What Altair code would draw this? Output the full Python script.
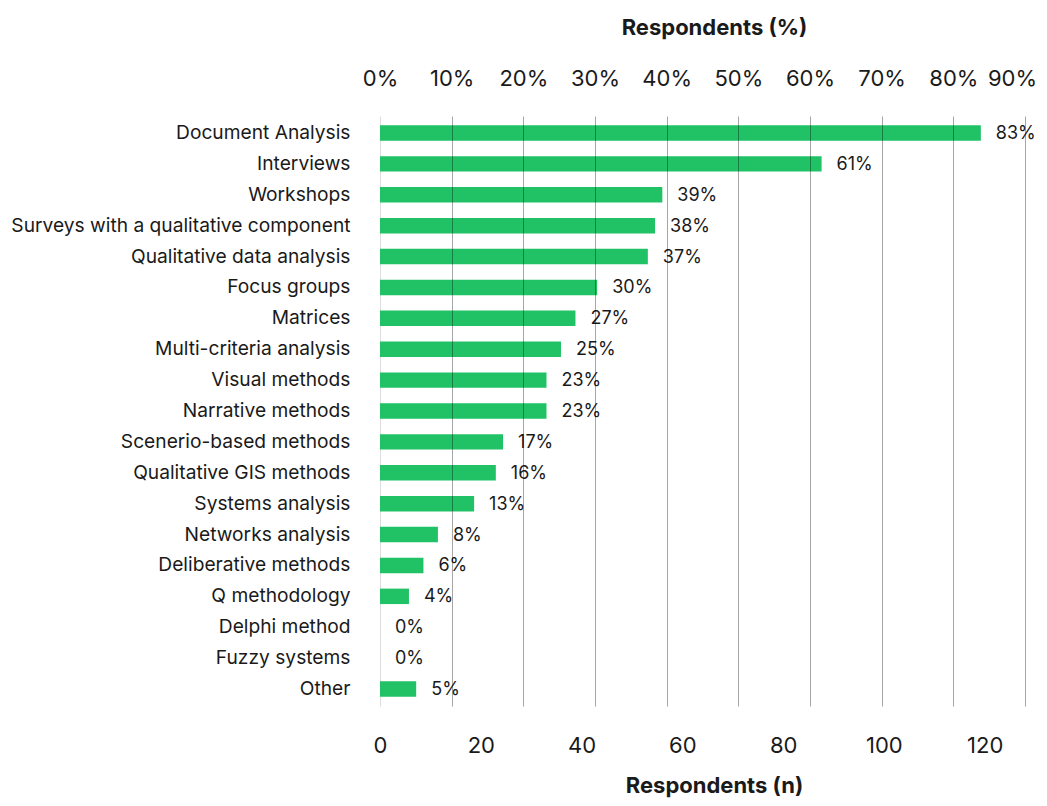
import altair as alt
import pandas as pd

methods = [
    "Document Analysis", "Interviews", "Workshops",
    "Surveys with a qualitative component", "Qualitative data analysis",
    "Focus groups", "Matrices", "Multi-criteria analysis", "Visual methods",
    "Narrative methods", "Scenerio-based methods", "Qualitative GIS methods",
    "Systems analysis", "Networks analysis", "Deliberative methods",
    "Q methodology", "Delphi method", "Fuzzy systems", "Other",
]
counts = [83, 61, 39, 38, 37, 30, 27, 25, 23, 23, 17, 16, 13, 8, 6, 4, 0, 0, 5]
labels = ["83%", "61%", "39%", "38%", "37%", "30%", "27%", "25%", "23%", "23%",
          "17%", "16%", "13%", "8%", "6%", "4%", "0%", "0%", "5%"]
total = 99
pct_ticks = [0, 0.1, 0.2, 0.3, 0.4, 0.5, 0.6, 0.7, 0.8, 0.9]
n_ticks = [0, 20, 40, 60, 80, 100, 120]

df = pd.DataFrame({"method": methods, "n": counts, "label": labels})
df["pct"] = df["n"] / total

FONT = "Inter"
GREEN = "#21c266"
TEXT = "#1a1a1a"

y_enc = alt.Y(
    "method:N", sort=methods, title=None,
    scale=alt.Scale(paddingInner=0.5, paddingOuter=0.3),
    axis=alt.Axis(labelFont=FONT, labelFontSize=19.2, labelColor=TEXT,
                  labelPadding=30, ticks=False, domain=True,
                  domainColor="#dddddd", labelLimit=500),
)

pct_scale = alt.Scale(domain=[0, 0.9], nice=False, zero=True)

bars = alt.Chart(df).mark_bar(color=GREEN).encode(
    y=y_enc,
    x=alt.X(
        "pct:Q", scale=pct_scale, title="Respondents (%)",
        axis=alt.Axis(
            orient="top", format=".0%", values=pct_ticks, labelOverlap=False,
            labelFlush=False,
            labelOffset={"condition": {"test": "datum.value >= 0.85", "value": -13}, "value": 0},
            labelFont=FONT, labelFontSize=22, labelColor=TEXT,
            labelPadding=26, ticks=False, tickSize=0, domain=False,
            grid=True, gridColor="#000000",
            gridOpacity={"condition": {"test": "datum.value === 0", "value": 0}, "value": 0.35},
            zindex=1,
            titleFont=FONT, titleFontSize=22, titleFontWeight="bold",
            titleColor=TEXT, titlePadding=28, titleX=334, titleAlign="center",
        ),
    ),
)

text = alt.Chart(df).mark_text(
    align="left", baseline="middle", dx=15, dy=1, font=FONT, fontSize=18, color=TEXT
).encode(
    y=alt.Y("method:N", sort=methods),
    x=alt.X("pct:Q", scale=pct_scale, axis=None),
    text="label:N",
)

bottom = alt.Chart(df).mark_point(opacity=0).encode(
    y=alt.Y("method:N", sort=methods),
    x=alt.X(
        "n:Q", title="Respondents (n)",
        scale=alt.Scale(domain=[0, 128], nice=False),
        axis=alt.Axis(
            orient="bottom", values=n_ticks, labelOverlap=False,
            labelFlush=False,
            labelFont=FONT, labelFontSize=22,
            labelColor=TEXT, labelPadding=29, ticks=False, tickSize=0,
            domain=False, grid=False,
            titleFont=FONT, titleFontSize=22, titleFontWeight="bold",
            titleColor=TEXT, titlePadding=19, titleX=334, titleAlign="center",
        ),
    ),
)

chart = alt.layer(bars, text, bottom).resolve_scale(x="independent").properties(
    width=645, height=590,
    autosize=alt.AutoSizeParams(type="none"),
    padding={"top": 108, "left": 372, "right": 14, "bottom": 92},
    background="white",
).configure_view(stroke=None)

chart.save("out.html", embed_options={"renderer": "svg", "actions": False})
